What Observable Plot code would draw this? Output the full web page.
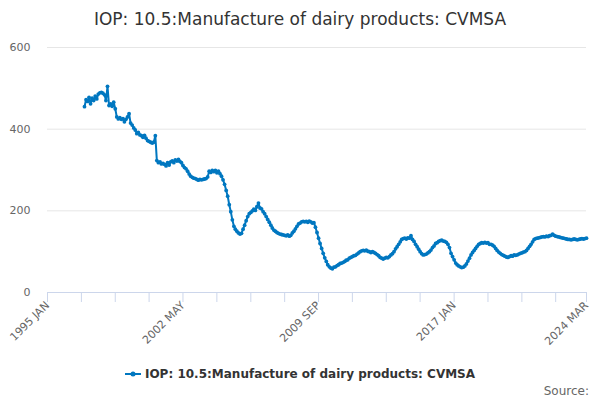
<!DOCTYPE html>
<html>
<head>
<meta charset="utf-8">
<script src="https://cdn.jsdelivr.net/npm/d3@7"></script>
<script src="https://cdn.jsdelivr.net/npm/@observablehq/plot@0.6"></script>
<style>
  html, body { margin: 0; padding: 0; background: #fff; }
  body { width: 600px; height: 400px; position: relative; overflow: hidden; font-family: "DejaVu Sans", sans-serif; }
  #title { position: absolute; top: 0; left: 0; width: 600px; height: 36px; line-height: 38px; text-align: center; font-size: 17px; color: #333; }
  #chart { position: absolute; top: 36px; left: 0; }
  #legend { position: absolute; top: 367px; left: 0; width: 600px; text-align: center; font-size: 12px; font-weight: bold; color: #333; }
  #legend svg { vertical-align: -1px; margin-right: 4px; }
  #source { position: absolute; top: 384px; right: 11px; font-size: 12px; color: #666; }
</style>
</head>
<body>
<div id="title">IOP: 10.5:Manufacture of dairy products: CVMSA</div>
<div id="chart"></div>
<div id="legend"><svg width="16" height="10"><line x1="0" y1="5" x2="16" y2="5" stroke="#0077c0" stroke-width="2"/><circle cx="8" cy="5" r="2.5" fill="#0077c0"/></svg>IOP: 10.5:Manufacture of dairy products: CVMSA</div>
<div id="source">Source:</div>
<script>
const monthNames = ["JAN","FEB","MAR","APR","MAY","JUN","JUL","AUG","SEP","OCT","NOV","DEC"];
const startYear = 1997;
const v1997 = [455, 472, 468, 478, 462, 476, 470, 481, 474, 486, 489, 490];
const v1998 = [488, 484, 470, 505, 458, 462, 456, 466, 450, 430, 425, 428];
const v1999 = [424, 426, 418, 424, 430, 438, 415, 410, 403, 398, 389, 392];
const v2000 = [386, 384, 380, 385, 378, 372, 370, 368, 366, 368, 384, 323];
const v2001 = [318, 320, 315, 316, 314, 310, 318, 312, 320, 322, 318, 325];
const v2002 = [322, 326, 321, 318, 311, 306, 303, 297, 290, 285, 282, 280];
const v2003 = [279, 277, 275, 277, 276, 277, 278, 279, 283, 297, 294, 299];
const v2004 = [296, 299, 293, 297, 291, 285, 276, 265, 250, 236, 215, 198];
const v2005 = [178, 162, 155, 150, 146, 143, 145, 155, 165, 176, 186, 193];
const v2006 = [196, 200, 204, 201, 210, 219, 207, 205, 198, 193, 186, 179];
const v2007 = [172, 165, 158, 153, 150, 147, 145, 143, 142, 141, 140, 139];
const v2008 = [141, 138, 140, 146, 150, 156, 162, 168, 170, 173, 174, 173];
const v2009 = [174, 172, 175, 173, 170, 171, 160, 147, 133, 120, 108, 96];
const v2010 = [85, 76, 68, 63, 60, 58, 62, 63, 66, 68, 71, 72];
const v2011 = [74, 76, 79, 80, 84, 86, 88, 90, 91, 94, 97, 100];
const v2012 = [102, 103, 102, 104, 101, 100, 98, 100, 98, 96, 93, 90];
const v2013 = [86, 84, 82, 84, 86, 85, 88, 92, 95, 100, 107, 112];
const v2014 = [118, 124, 130, 132, 133, 131, 134, 133, 139, 130, 125, 118];
const v2015 = [112, 106, 100, 95, 92, 93, 94, 97, 100, 104, 110, 114];
const v2016 = [120, 122, 125, 127, 128, 126, 125, 123, 118, 110, 96, 88];
const v2017 = [80, 72, 68, 65, 63, 61, 62, 65, 70, 77, 84, 92];
const v2018 = [98, 103, 108, 113, 118, 120, 122, 121, 123, 121, 122, 118];
const v2019 = [118, 116, 113, 108, 103, 99, 96, 93, 91, 89, 87, 86];
const v2020 = [88, 90, 89, 92, 91, 92, 94, 96, 97, 99, 100, 103];
const v2021 = [108, 113, 118, 124, 130, 132, 133, 134, 135, 136, 137, 136];
const v2022 = [138, 137, 139, 140, 143, 140, 138, 137, 136, 135, 134, 133];
const v2023 = [132, 131, 130, 130, 129, 130, 131, 130, 129, 130, 131, 132];
const v2024 = [131, 132, 133];
const tickMonthIndex = [0, 22, 44, 66, 88, 110, 132, 154, 176, 198, 220, 242, 264, 286, 308, 330, 350];
const labelMonthIndex = [0, 88, 176, 264, 350];
const yTicks = [0, 200, 400, 600];

const series = [v1997, v1998, v1999, v2000, v2001, v2002, v2003, v2004, v2005, v2006, v2007, v2008, v2009, v2010, v2011, v2012, v2013, v2014, v2015, v2016, v2017, v2018, v2019, v2020, v2021, v2022, v2023, v2024].flat();
const data = series.map((v, i) => ({date: new Date(Date.UTC(startYear, i, 1)), value: v}));
const ticks = tickMonthIndex.map(i => new Date(Date.UTC(1995, i, 1)));
const fmt = d => {
  const idx = (d.getUTCFullYear() - 1995) * 12 + d.getUTCMonth();
  return labelMonthIndex.includes(idx) ? `${d.getUTCFullYear()} ${monthNames[d.getUTCMonth()]}` : "";
};
const color = "#0077c0";
const chart = Plot.plot({
  width: 600,
  height: 320,
  marginTop: 11,
  marginBottom: 64,
  marginLeft: 47,
  marginRight: 14,
  style: {fontFamily: "DejaVu Sans, sans-serif", fontSize: "11px", background: "white", overflow: "visible"},
  x: {type: "utc", domain: [ticks[0], ticks[ticks.length - 1]]},
  y: {domain: [0, 600]},
  marks: [
    Plot.gridY(yTicks, {stroke: "#e6e6e6", strokeOpacity: 1}),
    Plot.axisY(yTicks, {tickSize: 0, tickPadding: 17, fill: "#666", tickFormat: d => String(d), label: null}),
    Plot.ruleY([0], {stroke: "#ccd6eb"}),
    Plot.axisX(ticks, {tickSize: 10, stroke: "#ccd6eb", strokeOpacity: 1, fill: "#666", tickRotate: -45, tickPadding: 1, tickFormat: fmt, label: null}),
    Plot.lineY(data, {x: "date", y: "value", stroke: color, strokeWidth: 2}),
    Plot.dot(data, {x: "date", y: "value", r: 1.9, fill: color})
  ]
});
document.getElementById("chart").appendChild(chart);
</script>
</body>
</html>
